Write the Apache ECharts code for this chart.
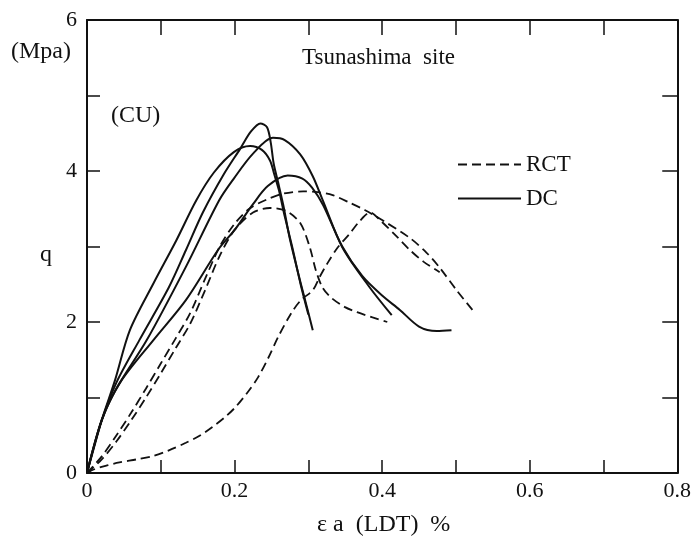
<!DOCTYPE html>
<html>
<head>
<meta charset="utf-8">
<script src="https://cdn.jsdelivr.net/npm/echarts@6/dist/echarts.min.js"></script>
<style>
  html, body { margin: 0; padding: 0; background: #fff; }
  #main { width: 694px; height: 539px; }
</style>
</head>
<body>
<div id="main"></div>
<script>
// 数据: [应变 %, q (MPa)]
var rct1 = [[0,0],[0.02,0.18],[0.04,0.42],[0.06,0.7],[0.08,1.0],[0.1,1.32],[0.12,1.65],[0.14,1.98],[0.16,2.42],[0.18,2.88],[0.2,3.22],[0.225,3.45],[0.248,3.51],[0.27,3.47],[0.289,3.31],[0.302,2.99],[0.31,2.69],[0.319,2.46],[0.33,2.33],[0.349,2.2],[0.366,2.13],[0.387,2.06],[0.407,2.0]];
var rct2 = [[0,0],[0.02,0.22],[0.04,0.5],[0.06,0.8],[0.08,1.12],[0.1,1.45],[0.12,1.78],[0.14,2.12],[0.16,2.57],[0.18,3.0],[0.2,3.3],[0.22,3.5],[0.243,3.62],[0.266,3.7],[0.293,3.73],[0.313,3.72],[0.333,3.68],[0.356,3.58],[0.377,3.48],[0.4,3.35],[0.438,3.11],[0.46,2.92],[0.478,2.72],[0.501,2.42],[0.525,2.13]];
var rct3 = [[0,0],[0.01,0.05],[0.027,0.1],[0.044,0.14],[0.067,0.18],[0.09,0.225],[0.111,0.3],[0.134,0.4],[0.152,0.49],[0.17,0.61],[0.187,0.74],[0.201,0.87],[0.217,1.06],[0.232,1.27],[0.246,1.53],[0.259,1.8],[0.277,2.12],[0.29,2.29],[0.306,2.42],[0.315,2.59],[0.326,2.78],[0.34,2.99],[0.356,3.17],[0.369,3.33],[0.384,3.45],[0.397,3.35],[0.42,3.13],[0.438,2.95],[0.456,2.8],[0.478,2.66]];
var dc1 = [[0,0],[0.008,0.3],[0.02,0.7],[0.04,1.2],[0.071,1.76],[0.111,2.46],[0.134,2.95],[0.157,3.45],[0.185,3.95],[0.208,4.3],[0.222,4.52],[0.235,4.63],[0.244,4.58],[0.249,4.38],[0.253,4.1],[0.259,3.85],[0.266,3.55],[0.275,3.1],[0.29,2.5],[0.298,2.2],[0.306,1.89]];
var dc2 = [[0,0],[0.007,0.25],[0.02,0.7],[0.038,1.23],[0.058,1.89],[0.09,2.51],[0.121,3.08],[0.148,3.61],[0.172,3.98],[0.199,4.25],[0.221,4.33],[0.237,4.28],[0.248,4.14],[0.254,3.95],[0.26,3.75],[0.268,3.4],[0.278,3.0],[0.29,2.48],[0.3,2.1]];
var dc3 = [[0,0],[0.02,0.7],[0.04,1.12],[0.081,1.76],[0.134,2.73],[0.179,3.61],[0.199,3.9],[0.225,4.23],[0.252,4.44],[0.268,4.41],[0.289,4.22],[0.306,3.93],[0.32,3.6],[0.346,2.99],[0.383,2.46],[0.413,2.09]];
var dc4 = [[0,0],[0.02,0.7],[0.045,1.2],[0.09,1.76],[0.134,2.29],[0.178,2.96],[0.201,3.23],[0.225,3.56],[0.245,3.8],[0.272,3.94],[0.292,3.9],[0.305,3.78],[0.32,3.55],[0.346,3.0],[0.373,2.61],[0.4,2.35],[0.424,2.16],[0.45,1.94],[0.474,1.88],[0.494,1.89]];
var xTickLabels = ['0', '0.2', '0.4', '0.6', '0.8'];
var yTickLabels = ['0', '2', '4', '6'];

var FONT = 'Liberation Serif';
var chart = echarts.init(document.getElementById('main'));

function dashed(d) {
  return { name: 'RCT', type: 'line', data: d, symbol: 'none', smooth: 0.3,
    itemStyle: { color: '#111' },
    lineStyle: { color: '#111', width: 1.8, type: [9, 5] } };
}
function solid(d) {
  return { name: 'DC', type: 'line', data: d, symbol: 'none', smooth: 0.3,
    itemStyle: { color: '#111' },
    lineStyle: { color: '#111', width: 2, type: 'solid' } };
}

var option = {
  animation: false,
  backgroundColor: '#fff',
  grid: { left: 87, right: 11, top: 20, bottom: 66 },
  legend: {
    data: ['RCT', 'DC'],
    orient: 'vertical',
    left: 452,
    top: 148,
    itemWidth: 63,
    itemHeight: 14,
    itemGap: 11,
    itemStyle: { opacity: 0 },
    textStyle: { fontFamily: FONT, fontSize: 23, color: '#111', lineHeight: 22 }
  },
  xAxis: [{
    type: 'value', min: 0, max: 0.8, interval: 0.1, position: 'bottom',
    axisLine: { onZero: false, lineStyle: { color: '#111', width: 2 } },
    axisTick: { inside: true, length: 13, lineStyle: { color: '#111', width: 1.5 } },
    splitLine: { show: false },
    axisLabel: {
      margin: 7, fontFamily: FONT, fontSize: 22, color: '#111',
      formatter: function (v) {
        var k = Math.round(v * 10);
        return k % 2 === 0 ? xTickLabels[k / 2] : '';
      }
    }
  }, {
    type: 'value', min: 0, max: 0.8, interval: 0.1, position: 'top',
    axisLine: { onZero: false, lineStyle: { color: '#111', width: 2 } },
    axisTick: { inside: true, length: 15, lineStyle: { color: '#111', width: 1.5 } },
    axisLabel: { show: false }, splitLine: { show: false }
  }],
  yAxis: [{
    type: 'value', min: 0, max: 6, interval: 1, position: 'left',
    axisLine: { show: true, onZero: false, lineStyle: { color: '#111', width: 2 } },
    axisTick: { show: true, inside: true, length: 13, lineStyle: { color: '#111', width: 1.5 } },
    splitLine: { show: false },
    axisLabel: {
      margin: 10, fontFamily: FONT, fontSize: 22, color: '#111',
      formatter: function (v) {
        return v % 2 === 0 ? yTickLabels[v / 2] : '';
      }
    }
  }, {
    type: 'value', min: 0, max: 6, interval: 1, position: 'right',
    axisLine: { show: true, onZero: false, lineStyle: { color: '#111', width: 2 } },
    axisTick: { show: true, inside: true, length: 15, lineStyle: { color: '#111', width: 1.5 } },
    axisLabel: { show: false }, splitLine: { show: false }
  }],
  graphic: [
    { type: 'text', left: 11, top: 40, style: { text: '(Mpa)', font: '24px "Liberation Serif"', fill: '#111' } },
    { type: 'text', left: 40, top: 243, style: { text: 'q', font: '24px "Liberation Serif"', fill: '#111' } },
    { type: 'text', left: 302, top: 46, style: { text: 'Tsunashima  site', font: '23px "Liberation Serif"', fill: '#111' } },
    { type: 'text', left: 111, top: 104, style: { text: '(CU)', font: '24px "Liberation Serif"', fill: '#111' } },
    { type: 'text', left: 317, top: 513, style: { text: 'ε a  (LDT)  %', font: '24px "Liberation Serif"', fill: '#111' } }
  ],
  series: [
    dashed(rct1), dashed(rct2), dashed(rct3),
    solid(dc1), solid(dc2), solid(dc3), solid(dc4)
  ]
};
chart.setOption(option);
</script>
</body>
</html>
